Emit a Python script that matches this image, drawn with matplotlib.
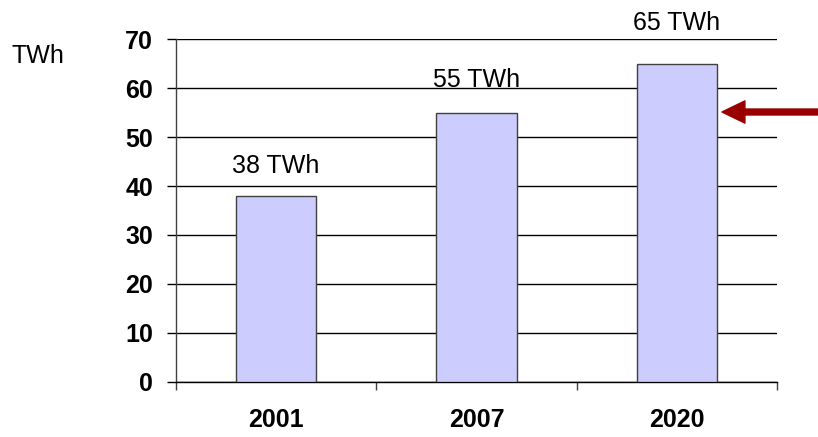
import matplotlib.pyplot as plt
import numpy as np

plt.rcParams['font.family'] = ['Liberation Sans', 'DejaVu Sans']

# Datos
years = ['2001', '2007', '2020']
twh = [38, 55, 65]
labels = ['38 TWh', '55 TWh', '65 TWh']
label_pad = [4.7, 5.3, 6.9]  # separación del texto sobre cada barra
yticks = [0, 10, 20, 30, 40, 50, 60, 70]

fig = plt.figure(figsize=(8.18, 4.37), dpi=100)
ax = fig.add_axes([0.215, 0.1265, 0.735, 0.7835])

x = np.arange(len(years))
ax.bar(x, twh, width=0.4, color='#CCCCFF', edgecolor='#404040', linewidth=1, zorder=3)

for xi, v, lab, pad in zip(x, twh, labels, label_pad):
    ax.text(xi, v + pad, lab, ha='center', va='baseline', fontsize=18, zorder=4)

# Ejes
ax.set_xlim(-0.5, len(years) - 0.5)
ax.set_ylim(0, 70)
ax.set_yticks(yticks)
ax.set_yticklabels([str(t) for t in yticks], fontsize=18, fontweight='bold')
ax.set_xticks(x)
ax.set_xticklabels(years, fontsize=18, fontweight='bold')
ax.set_xticks(np.arange(len(years) + 1) - 0.5, minor=True)
ax.tick_params(axis='x', which='major', length=0, pad=19)
ax.tick_params(axis='x', which='minor', length=6, width=1, direction='out', color='#404040')
ax.tick_params(axis='y', length=6.5, width=1, direction='out', pad=10)

ax.grid(axis='y', color='black', linewidth=1, zorder=0)
ax.spines['top'].set_visible(False)
ax.spines['right'].set_visible(False)
ax.spines['left'].set_color('#404040')
ax.spines['bottom'].set_color('black')
ax.spines['left'].set_linewidth(1)
ax.spines['bottom'].set_linewidth(1)

fig.text(12 / 818, 1 - 63 / 437, 'TWh', fontsize=18, ha='left', va='baseline')

# Flecha
ax.annotate('', xy=(722 / 818, 1 - 112 / 437), xycoords='figure fraction',
            xytext=(1.0, 1 - 112 / 437), textcoords='figure fraction',
            arrowprops=dict(facecolor='#990000', edgecolor='#990000',
                            width=4.3, headwidth=16, headlength=16.5),
            annotation_clip=False)

fig.savefig('out.png', dpi=100)
